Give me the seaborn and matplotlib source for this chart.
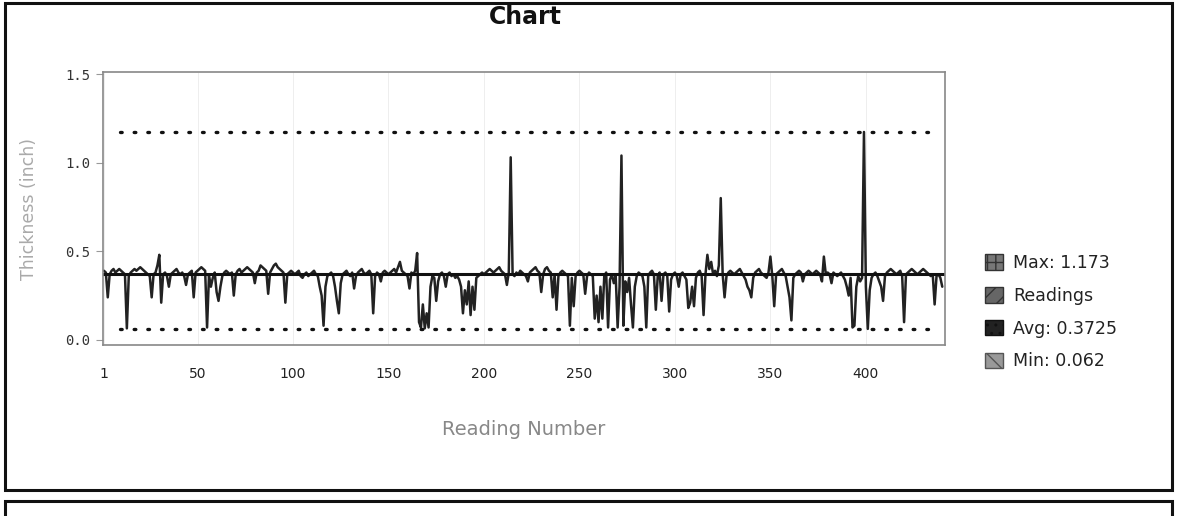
import numpy as np
import pandas as pd
import matplotlib
matplotlib.use("Agg")
import matplotlib.pyplot as plt
from matplotlib.patches import Patch, Rectangle
import seaborn as sns

# --- chart values ---
readings = [
    0.39, 0.38, 0.24, 0.37, 0.39, 0.40, 0.38, 0.39, 0.40, 0.39, 0.38, 0.37, 0.065, 0.36, 0.38, 0.39, 0.40, 0.39, 0.40, 0.41,
    0.40, 0.39, 0.38, 0.37, 0.36, 0.24, 0.37, 0.38, 0.42, 0.48, 0.21, 0.37, 0.38, 0.36, 0.30, 0.37, 0.38, 0.39, 0.40, 0.38,
    0.37, 0.38, 0.36, 0.31, 0.37, 0.38, 0.39, 0.24, 0.38, 0.39, 0.40, 0.41, 0.40, 0.39, 0.07, 0.36, 0.30, 0.35, 0.38, 0.27,
    0.22, 0.30, 0.36, 0.38, 0.39, 0.38, 0.37, 0.38, 0.25, 0.37, 0.39, 0.40, 0.38, 0.39, 0.40, 0.41, 0.40, 0.39, 0.38, 0.32,
    0.38, 0.39, 0.42, 0.41, 0.40, 0.39, 0.26, 0.38, 0.40, 0.42, 0.43, 0.41, 0.40, 0.39, 0.38, 0.21, 0.37, 0.38, 0.39, 0.38,
    0.37, 0.38, 0.39, 0.36, 0.35, 0.37, 0.38, 0.36, 0.37, 0.38, 0.39, 0.37, 0.36, 0.30, 0.25, 0.08, 0.30, 0.36, 0.37, 0.38,
    0.36, 0.30, 0.22, 0.15, 0.32, 0.37, 0.38, 0.39, 0.37, 0.36, 0.38, 0.29, 0.36, 0.38, 0.39, 0.40, 0.38, 0.37, 0.38, 0.39,
    0.37, 0.15, 0.36, 0.38, 0.37, 0.33, 0.38, 0.39, 0.38, 0.37, 0.38, 0.39, 0.40, 0.38, 0.41, 0.44, 0.39, 0.38, 0.37, 0.36,
    0.29, 0.38, 0.37, 0.39, 0.49, 0.10, 0.07, 0.20, 0.065, 0.15, 0.07, 0.30, 0.36, 0.35, 0.22, 0.33, 0.37, 0.38, 0.36, 0.30,
    0.37, 0.38, 0.36, 0.37, 0.35, 0.36, 0.34, 0.30, 0.15, 0.28, 0.20, 0.33, 0.14, 0.30, 0.17, 0.35, 0.36, 0.37, 0.38, 0.37,
    0.38, 0.39, 0.40, 0.39, 0.38, 0.39, 0.40, 0.41, 0.39, 0.38, 0.37, 0.31, 0.38, 1.03, 0.37, 0.36, 0.38, 0.37, 0.39, 0.38,
    0.37, 0.36, 0.33, 0.38, 0.39, 0.40, 0.41, 0.39, 0.38, 0.27, 0.37, 0.40, 0.41, 0.39, 0.38, 0.24, 0.37, 0.17, 0.36, 0.38,
    0.39, 0.38, 0.37, 0.36, 0.08, 0.35, 0.19, 0.36, 0.38, 0.39, 0.38, 0.37, 0.26, 0.36, 0.38, 0.37, 0.36, 0.12, 0.25, 0.10,
    0.30, 0.12, 0.36, 0.38, 0.07, 0.34, 0.37, 0.32, 0.36, 0.07, 0.30, 1.04, 0.08, 0.33, 0.27, 0.35, 0.20, 0.07, 0.30, 0.36,
    0.38, 0.37, 0.36, 0.30, 0.07, 0.36, 0.38, 0.39, 0.37, 0.17, 0.36, 0.38, 0.22, 0.37, 0.38, 0.36, 0.16, 0.34, 0.37, 0.38,
    0.36, 0.30, 0.37, 0.38, 0.36, 0.34, 0.18, 0.21, 0.30, 0.19, 0.35, 0.38, 0.39, 0.36, 0.14, 0.37, 0.48, 0.40, 0.44, 0.37,
    0.39, 0.36, 0.42, 0.80, 0.37, 0.24, 0.36, 0.38, 0.39, 0.38, 0.37, 0.38, 0.39, 0.40, 0.38, 0.36, 0.34, 0.30, 0.28, 0.24,
    0.35, 0.38, 0.39, 0.40, 0.38, 0.37, 0.36, 0.35, 0.38, 0.47, 0.36, 0.19, 0.37, 0.38, 0.39, 0.40, 0.38, 0.36, 0.30, 0.24,
    0.11, 0.35, 0.37, 0.38, 0.39, 0.38, 0.33, 0.37, 0.38, 0.39, 0.38, 0.37, 0.38, 0.39, 0.38, 0.37, 0.33, 0.47, 0.37, 0.38,
    0.37, 0.32, 0.38, 0.37, 0.36, 0.37, 0.38, 0.36, 0.34, 0.30, 0.25, 0.35, 0.07, 0.08, 0.30, 0.36, 0.33, 0.35, 1.173, 0.30,
    0.062, 0.28, 0.35, 0.37, 0.38, 0.36, 0.33, 0.30, 0.22, 0.36, 0.38, 0.39, 0.40, 0.39, 0.38, 0.37, 0.38, 0.39, 0.36, 0.10,
    0.37, 0.38, 0.39, 0.40, 0.39, 0.38, 0.37, 0.38, 0.39, 0.40, 0.39, 0.38, 0.37, 0.36, 0.37, 0.20, 0.36, 0.37, 0.35, 0.30,
]
max_value = 1.173
avg_value = 0.3725
min_value = 0.062
x_ticks = [1, 50, 100, 150, 200, 250, 300, 350, 400]
y_ticks = [0.0, 0.5, 1.0, 1.5]
legend_labels = ["Max: 1.173", "Readings", "Avg: 0.3725", "Min: 0.062"]

df = pd.DataFrame({"reading": np.arange(1, len(readings) + 1), "thickness": readings})

sns.set_style("white")
plt.rcParams["font.family"] = ["DejaVu Sans"]

fig = plt.figure(figsize=(11.77, 5.16), dpi=100)
ax = fig.add_axes([0.0875, 0.331, 0.7155, 0.529])

sns.lineplot(data=df, x="reading", y="thickness", ax=ax, color="#222222", linewidth=1.8)
ax.axhline(avg_value, color="#111111", linewidth=2.2)
ax.axhline(max_value, xmin=0.02, xmax=0.985, color="#111111", linewidth=2.4,
           linestyle=(0, (0.5, 3.6)), dash_capstyle="round")
ax.axhline(min_value, xmin=0.02, xmax=0.985, color="#111111", linewidth=2.4,
           linestyle=(0, (0.5, 3.6)), dash_capstyle="round")

ax.set_xlim(0.5, len(readings) + 1.5)
ax.set_ylim(-0.03, 1.51)
ax.set_xticks(x_ticks)
ax.set_yticks(y_ticks)
ax.set_yticklabels([f"{t:.1f}" for t in y_ticks], family="DejaVu Sans Mono", fontsize=10, color="#333333")
ax.set_xticklabels([str(t) for t in x_ticks], fontsize=10, color="#222222")
ax.tick_params(axis="x", length=0, pad=16)
ax.tick_params(axis="y", length=5, width=0.8, color="#999999", pad=4, left=True)
for x in x_ticks:
    ax.axvline(x, color="#eeeeee", linewidth=0.7, zorder=0)
for s in ax.spines.values():
    s.set_color("#888888")
    s.set_linewidth(1.2)

ax.set_xlabel("Reading Number", fontsize=14, color="#888888", labelpad=28)
ax.set_ylabel("Thickness (inch)", fontsize=12.5, color="#aaaaaa", labelpad=20)

fig.text(0.446, 0.968, "Chart", ha="center", va="center", fontsize=17, fontweight="bold", color="#111111")

handles = [
    Patch(facecolor="#777777", edgecolor="#333333", hatch="++"),
    Patch(facecolor="#666666", edgecolor="#333333", hatch="//"),
    Patch(facecolor="#222222", edgecolor="#111111", hatch=".."),
    Patch(facecolor="#999999", edgecolor="#555555", hatch="\\\\"),
]
fig.legend(handles, legend_labels, loc="center left", bbox_to_anchor=(0.824, 0.395),
           frameon=False, fontsize=12.5, handlelength=1.0, handleheight=1.0,
           handletextpad=0.6, labelspacing=0.85, labelcolor="#222222")

# outer panel frames from the report page
fig.patches.append(Rectangle((0.004, 0.05), 0.992, 0.945, transform=fig.transFigure,
                             fill=False, edgecolor="#111111", linewidth=2.2))
fig.patches.append(Rectangle((0.004, -0.1), 0.992, 0.13, transform=fig.transFigure,
                             fill=False, edgecolor="#111111", linewidth=2.2))

fig.savefig("out.png", dpi=100)
plt.close(fig)
